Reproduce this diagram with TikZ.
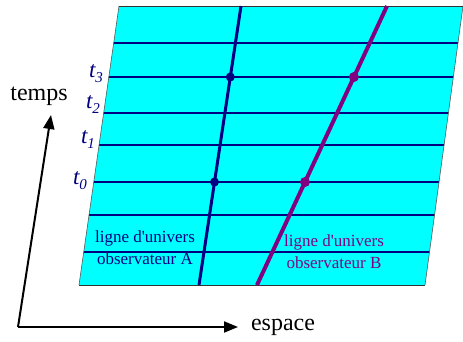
\documentclass[tikz,border=0pt]{standalone}
\usepackage{fontspec}
\setmainfont{Liberation Serif}
\usetikzlibrary{arrows.meta}
\definecolor{navyb}{RGB}{0,0,128}
\definecolor{purp}{RGB}{128,0,128}
\definecolor{cyanf}{RGB}{0,255,255}
\newcommand{\tlab}[1]{\itshape t\raisebox{-5pt}{\fontsize{15}{15}\selectfont #1}}
\begin{document}
\begin{tikzpicture}[x=1pt,y=-1pt,
  grid/.style={navyb,line width=1.2pt},
  axis/.style={black,line width=2pt,-{Triangle[length=14pt,width=11pt]}},
  big/.style={font=\fontsize{24}{28}\selectfont,inner sep=0pt},
  tl/.style={navyb,font=\fontsize{23}{26}\selectfont,inner sep=0pt},
  wl/.style={font=\fontsize{17}{21}\selectfont,inner sep=0pt,align=center}]
\useasboundingbox (0,0) rectangle (463,341);
\coordinate (TL) at (119,6);
\coordinate (TR) at (463,6);
\coordinate (BR) at (425,285);
\coordinate (BL) at (79,285);
\fill[cyanf] (TL)--(TR)--(BR)--(BL)--cycle;
\begin{scope}
\clip (TL)--(TR)--(BR)--(BL)--cycle;
\foreach \yy in {43,77,113,145,182,215,252}
  \draw[grid] (50,\yy) -- (480,\yy);
\end{scope}
\draw[gray!70!black,line width=0.6pt] (TL)--(BL) (TR)--(BR);
\draw[black!80,line width=1pt] (TL)--(TR) (BL)--(BR);
% world lines
\coordinate (A1) at (241,6);
\coordinate (A2) at (199,285);
\coordinate (B1) at (387,6);
\coordinate (B2) at (257,285);
\draw[navyb,line width=3pt] (A1) -- (A2)
  coordinate[pos=0.2545] (a3) coordinate[pos=0.6308] (a0);
\draw[purp,line width=4pt] (B1) -- (B2)
  coordinate[pos=0.2545] (b3) coordinate[pos=0.6308] (b0);
\fill[navyb] (a3) circle (4.5) (a0) circle (4.5);
\fill[purp] (b3) circle (5) (b0) circle (5);
% time labels
\node[tl] (t3) at (96,74) {\tlab{3}};
\node[tl] (t2) at (93,105) {\tlab{2}};
\node[tl] (t1) at (88,140) {\tlab{1}};
\node[tl] (t0) at (80,181) {\tlab{0}};
% world line labels
\node[wl,navyb] (la) at (145,248) {ligne d\textquotesingle univers\\[1pt]observateur A};
\node[wl,purp] (lb) at (334,252) {ligne d\textquotesingle univers\\[1pt]observateur B};
% axes
\coordinate (O) at (18,327);
\coordinate (Ty) at (51,115);
\coordinate (Ex) at (238,327);
\draw[axis] (O) -- (Ty);
\draw[axis] (O) -- (Ex);
\node[big] (temps) at (39,96) {temps};
\node[big] (espace) at (283,327) {espace};
\end{tikzpicture}
\end{document}
